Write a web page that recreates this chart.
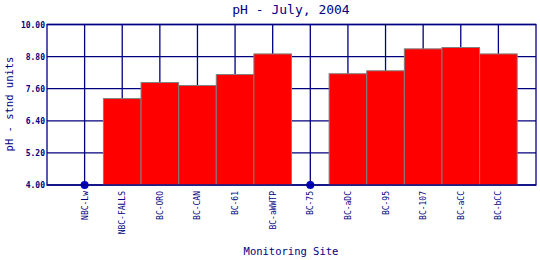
<!DOCTYPE html>
<html lang="en">
  <head>
    <meta charset="UTF-8" />
    <title>pH - July, 2004</title>
    <script src="https://d3js.org/d3.v7.min.js"></script>
    <style>
      body {
        margin: 0;
        background: #fff;
      }
      text {
        font-family: "DejaVu Sans Mono", "Liberation Mono", monospace;
        fill: #000080;
      }
    </style>
  </head>
  <body>
    <div id="chart"></div>
    <script>
      // data (null = no value, drawn as a dot on the axis)
      const sites = [
        "NBC-Lw", "NBC-FALLS", "BC-ORO", "BC-CAN", "BC-61", "BC-aWWTP",
        "BC-75", "BC-aDC", "BC-95", "BC-107", "BC-aCC", "BC-bCC"
      ];
      const phValues = [
        null, 7.23, 7.83, 7.72, 8.13, 8.9, null, 8.16, 8.27, 9.09, 9.14, 8.9
      ];
      const yTicks = [4.0, 5.2, 6.4, 7.6, 8.8, 10.0];

      const width = 540;
      const height = 260;
      const margin = { top: 24.5, right: 4, bottom: 75, left: 47 };

      const svg = d3
        .select("#chart")
        .append("svg")
        .attr("width", width)
        .attr("height", height);

      const x = d3
        .scaleLinear()
        .domain([0, sites.length + 1])
        .range([margin.left, width - margin.right]);
      const step = x(1) - x(0);

      const y = d3
        .scaleLinear()
        .domain([4, 10])
        .range([height - margin.bottom, margin.top]);

      const navy = "#000080";

      // grid lines
      svg
        .append("g")
        .selectAll("line")
        .data(yTicks)
        .enter()
        .append("line")
        .attr("x1", x(0))
        .attr("x2", x(sites.length + 1))
        .attr("y1", (d) => y(d))
        .attr("y2", (d) => y(d))
        .attr("stroke", navy)
        .attr("stroke-width", 1.3);

      svg
        .append("g")
        .selectAll("line")
        .data(sites)
        .enter()
        .append("line")
        .attr("x1", (d, i) => x(i + 1))
        .attr("x2", (d, i) => x(i + 1))
        .attr("y1", y(4))
        .attr("y2", y(10))
        .attr("stroke", navy)
        .attr("stroke-width", 1.3);

      // bars
      const rows = sites.map((s, i) => ({ site: s, i: i, v: phValues[i] }));

      svg
        .append("g")
        .selectAll("rect")
        .data(rows.filter((d) => d.v !== null))
        .enter()
        .append("rect")
        .attr("x", (d) => x(d.i + 1) - step / 2)
        .attr("width", step)
        .attr("y", (d) => y(d.v))
        .attr("height", (d) => y(4) - y(d.v))
        .attr("fill", "#ff0000")
        .attr("stroke", "#808080")
        .attr("stroke-width", 1);

      // missing values as dots
      svg
        .append("g")
        .selectAll("circle")
        .data(rows.filter((d) => d.v === null))
        .enter()
        .append("circle")
        .attr("cx", (d) => x(d.i + 1))
        .attr("cy", y(4))
        .attr("r", 4)
        .attr("fill", "#0000c0");

      // frame
      svg
        .append("rect")
        .attr("x", x(0))
        .attr("y", y(10))
        .attr("width", x(sites.length + 1) - x(0))
        .attr("height", y(4) - y(10))
        .attr("fill", "none")
        .attr("stroke", navy)
        .attr("stroke-width", 1.3);

      // y tick labels
      svg
        .append("g")
        .selectAll("text")
        .data(yTicks)
        .enter()
        .append("text")
        .attr("x", x(0) - 2)
        .attr("y", (d) => y(d) + 3)
        .attr("text-anchor", "end")
        .attr("font-size", "8px")
        .attr("font-weight", "bold")
        .text((d) => d.toFixed(2));

      // x tick labels
      svg
        .append("g")
        .selectAll("text")
        .data(sites)
        .enter()
        .append("text")
        .attr(
          "transform",
          (d, i) => `translate(${x(i + 1) + 3},${y(4) + 6}) rotate(-90)`
        )
        .attr("text-anchor", "end")
        .attr("font-size", "8px")
        .text((d) => d);

      // titles
      svg
        .append("text")
        .attr("x", 291)
        .attr("y", 14)
        .attr("text-anchor", "middle")
        .attr("font-size", "13px")
        .text("pH - July, 2004");

      svg
        .append("text")
        .attr("x", 291)
        .attr("y", 255)
        .attr("text-anchor", "middle")
        .attr("font-size", "10.5px")
        .text("Monitoring Site");

      svg
        .append("text")
        .attr("transform", "translate(13,104) rotate(-90)")
        .attr("text-anchor", "middle")
        .attr("font-size", "10.5px")
        .text("pH - stnd units");
    </script>
  </body>
</html>
